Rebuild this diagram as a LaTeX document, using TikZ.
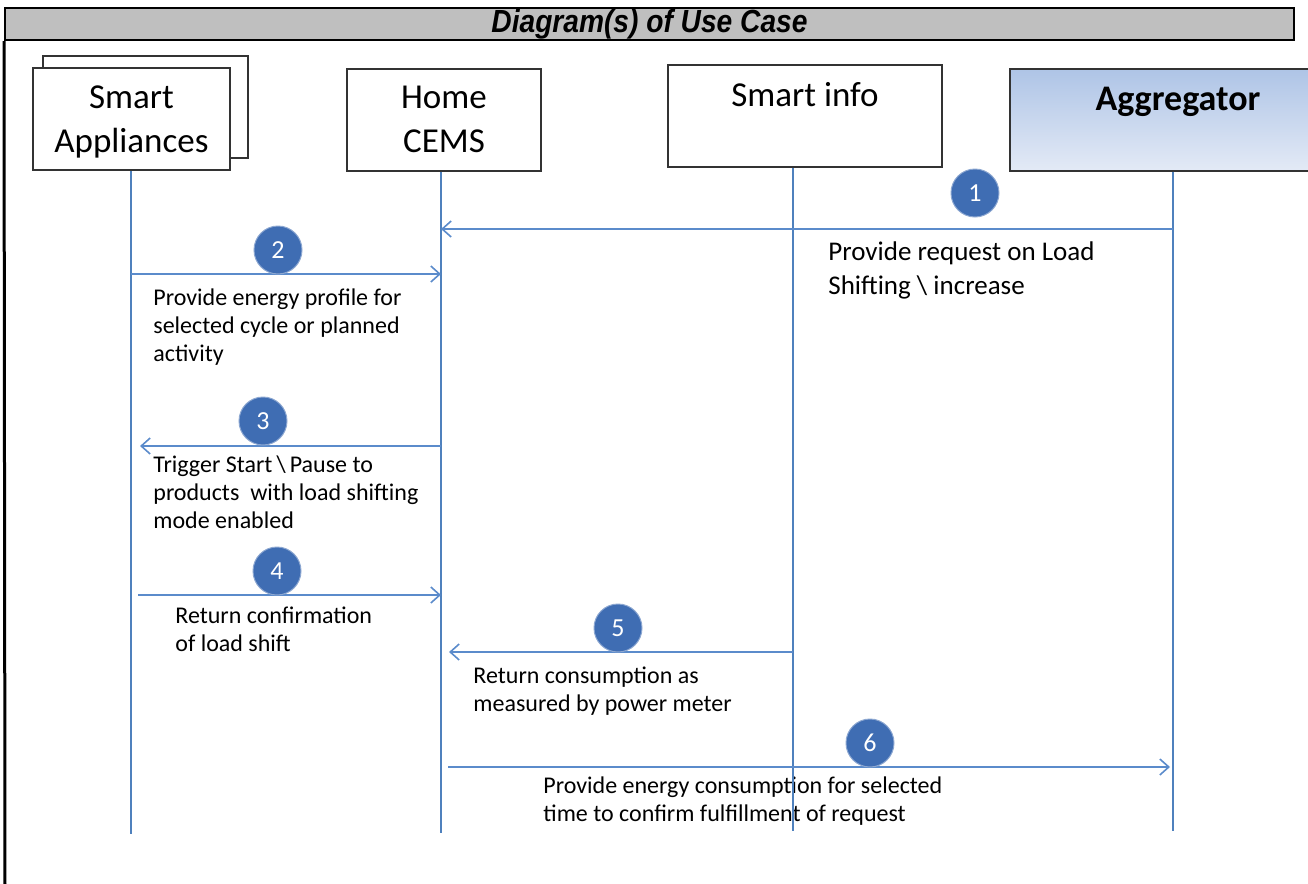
\documentclass[tikz,border=0pt]{standalone}
\usepackage{fontspec}
\setmainfont{Carlito}
\newfontfamily\headfont{Liberation Sans}
\usetikzlibrary{arrows.meta, positioning}
\usepackage{xcolor}
\definecolor{lifeblue}{HTML}{4F81BD}
\definecolor{msgblue}{HTML}{5B8BCB}
\definecolor{stepblue}{HTML}{3F6DB3}
\definecolor{aggtop}{HTML}{AEC4E6}
\definecolor{aggbot}{HTML}{E3EAF6}
\definecolor{headgray}{HTML}{BFBFBF}

\begin{document}
\begin{tikzpicture}[
    x=0.5pt, y=-0.5pt,
    actor/.style = {draw=black!80, line width=1pt, fill=white, minimum width=#1, minimum height=51pt, align=center, inner sep=0pt, font=\fontsize{17.5}{22}\selectfont},
    lifeline/.style = {lifeblue, line width=1pt},
    msg/.style = {msgblue, line width=0.8pt, -{Straight Barb[length=4.5pt, width=8pt]}},
    stepno/.style = {circle, fill=stepblue, draw=stepblue!60, line width=0.5pt, minimum size=24pt, inner sep=0pt, text=white, font=\fontsize{13}{15}\selectfont},
    msgtext/.style = {anchor=north west, inner sep=0pt, align=left, font=\fontsize{12}{14.2}\selectfont}
]
\useasboundingbox (0,0) rectangle (1308,884);

% Heading bar and left frame line
\node[draw, line width=1pt, fill=headgray, minimum width=644.5pt, minimum height=16pt, inner sep=0pt, font=\headfont\bfseries\itshape\fontsize{16}{18}\selectfont] (head) at (649.5,24) {\scalebox{0.88}[1]{Diagram(s) of Use Case}};
\coordinate (framebot) at (5,884);
\draw[line width=1.5pt] (head.south west) -- (framebot);

% Actors
\node[actor=102.5pt] (saback) at (145.5,106.5) {};
\node[actor=98.5pt, text depth=0pt] (sa) at (131.5,119) {Smart\\Appliances};
\node[actor=97pt] (cems) at (444,119.5) {Home\\CEMS};
\node[actor=137pt] (si) at (805,116) {Smart info\\[-7pt]\strut};
\node[actor=168pt, top color=aggtop, bottom color=aggbot, font=\bfseries\fontsize{18}{22}\selectfont] (agg) at (1178,119.5) {Aggregator\\[-8pt]\strut};

% Message texts
\node[msgtext, font=\fontsize{13.5}{17}\selectfont] (t1) at (828,241) {Provide request on Load\\Shifting \textbackslash{} increase};
\node[msgtext] (t2) at (153,288) {Provide energy profile for\\selected cycle or planned\\activity};
\node[msgtext] (t3) at (153,455) {Trigger Start\,\textbackslash\,Pause to\\products~ with load shifting\\mode enabled};
\node[msgtext] (t4) at (175,606) {Return confirmation\\of load shift};
\node[msgtext] (t5) at (473,666) {Return consumption as\\measured by power meter};
\node[msgtext] (t6) at (543,776) {Provide energy consumption for selected\\time to confirm fulfillment of request};

% Lifelines
\coordinate (saend) at (131,834);
\coordinate (cemsend) at (441,833);
\coordinate (siend) at (793,831);
\coordinate (aggend) at (1173,831);
\draw[lifeline] (sa.south -| saend) -- (saend);
\draw[lifeline] (cems.south -| cemsend) -- (cemsend);
\draw[lifeline] (si.south -| siend) -- (siend);
\draw[lifeline] (agg.south -| aggend) -- (aggend);

% Messages
\coordinate (row1) at (0,229);
\coordinate (row2) at (0,274);
\coordinate (row3) at (0,446);
\coordinate (row4) at (0,595);
\coordinate (row5) at (0,652);
\coordinate (row6) at (0,767);
\draw[msg] (aggend |- row1) -- (cemsend |- row1);
\draw[msg] (saend |- row2) -- (cemsend |- row2);
\draw[msg, shorten >=4.5pt] (cemsend |- row3) -- (saend |- row3);
\draw[msg, shorten <=3.5pt] (saend |- row4) -- (cemsend |- row4);
\draw[msg, shorten >=4pt] (siend |- row5) -- (cemsend |- row5);
\draw[msg, shorten <=3.5pt, shorten >=1.5pt] (cemsend |- row6) -- (aggend |- row6);

% Step numbers
\node[stepno] (n1) at (975,193) {1};
\node[stepno] (n2) at (278,250) {2};
\node[stepno] (n3) at (263,421) {3};
\node[stepno] (n4) at (277,571) {4};
\node[stepno] (n5) at (618,628) {5};
\node[stepno] (n6) at (870,743) {6};

\end{tikzpicture}
\end{document}
